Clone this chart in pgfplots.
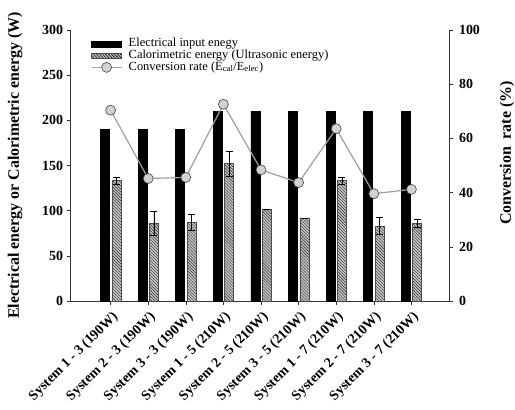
\documentclass[border=0pt]{standalone}
\usepackage{fontspec}
\setmainfont{Liberation Serif}
\usepackage{pgfplots}
\pgfplotsset{compat=1.18}
\usetikzlibrary{patterns}
\pgfplotsset{
  convleg/.style={legend image code/.code={\draw[mark repeat=2, mark phase=2, ##1] plot coordinates {(0bp,0bp) (15bp,0bp) (30bp,0bp)}; \path (33bp,0bp);}},
}

\begin{document}
\begin{tikzpicture}
\begin{axis}[
  width=379bp, height=271bp, scale only axis,
  xmin=-1.08, xmax=9,
  ymin=0, ymax=300, ytick={0,50,...,300},
  axis x line*=bottom, axis y line*=left,
  xtick={0,...,8},
  xticklabels={System 1 - 3 (190W), System 2 - 3 (190W), System 3 - 3 (190W), System 1 - 5 (210W), System 2 - 5 (210W), System 3 - 5 (210W), System 1 - 7 (210W), System 2 - 7 (210W), System 3 - 7 (210W)},
  tick align=outside, major tick length=3.5bp,
  xticklabel style={rotate=45, anchor=north east, yshift=-1bp, font=\fontsize{14}{14}\selectfont\bfseries},
  yticklabel style={font=\fontsize{14}{14}\selectfont\bfseries},
  /pgf/number format/assume math mode=true,
  ylabel={Electrical energy or Calorimetric energy (W)},
  ylabel style={font=\fontsize{16}{16}\selectfont\bfseries, at={(axis description cs:-0.145,0.5)}, anchor=center},
  axis line style={black!80, line width=0.6bp},
  tick style={black!80, line width=0.6bp},
  legend cell align=left,
  legend style={at={(axis description cs:0.047,0.978)}, anchor=north west, draw=none, fill=none,
    font=\fontsize{12.5}{12.5}\selectfont,
    nodes={inner xsep=3.5bp, inner ysep=0pt, text height=8.5bp, text depth=3.2bp}},
]
\addplot[ybar, bar width=9bp, bar shift=-5.7bp, fill=black, draw=black,
  legend image code/.code={\draw[fill=black,draw=black] (0bp,-3.3bp) rectangle (30bp,3.3bp); \path (33bp,0bp);}]
  coordinates {(0,190) (1,190) (2,190) (3,210) (4,210) (5,210) (6,210) (7,210) (8,210)};
\addlegendentry{Electrical input enegy}

\addplot[ybar, bar width=9bp, bar shift=0bp, fill=gray!45, draw=black!70, line width=0.5bp,
  postaction={pattern=north west lines, pattern color=black!85},
  legend image code/.code={\draw[fill=gray!45, draw=black!70, line width=0.5bp, postaction={pattern=north west lines, pattern color=black!85}] (0bp,-2.7bp) rectangle (30bp,2.7bp); \path (33bp,0bp);},
  error bars/.cd, y dir=both, y explicit,
  error bar style={black, line width=0.8bp},
  error mark options={rotate=90, mark size=3.5bp, line width=0.8bp, black}]
  table[x=x, y=y, y error=e] {
  x y e
  0.152 133.3 4
  1.152 86 13
  2.152 87 8.5
  3.152 152 14
  4.152 101.5 0
  5.152 91.5 0
  6.152 133.3 4
  7.152 83 9
  8.152 86.3 4.3
  };
\addlegendentry{Calorimetric energy (Ultrasonic energy)}

\addlegendimage{color=gray!75, line width=1.2bp, mark=*, mark size=5bp, mark options={fill=gray!35, draw=black!75, line width=0.6bp}, convleg}
\addlegendentry{Conversion rate (E\textsubscript{cal}/E\textsubscript{elec})}
\end{axis}

\begin{axis}[
  width=379bp, height=271bp, scale only axis,
  xmin=-1.08, xmax=9,
  ymin=0, ymax=100, ytick={0,20,...,100},
  axis y line*=right, axis x line=none, xtick=\empty,
  tick align=outside, major tick length=3.5bp,
  yticklabel style={font=\fontsize{14}{14}\selectfont\bfseries, xshift=3bp},
  /pgf/number format/assume math mode=true,
  ylabel={Conversion\ \ rate (\%)},
  ylabel style={font=\fontsize{16}{16}\selectfont\bfseries, at={(axis description cs:1.153,0.546)}, anchor=center},
  axis line style={black!80, line width=0.6bp},
  tick style={black!80, line width=0.6bp},
]
\addplot[color=gray!75, line width=1.2bp, mark=*, mark size=5bp, mark options={fill=gray!35, draw=black!75, line width=0.6bp}]
  coordinates {(0,70.4) (1,45.2) (2,45.6) (3,72.6) (4,48.4) (5,43.7) (6,63.6) (7,39.6) (8,41.2)};
\end{axis}
\pgfresetboundingbox
\path[use as bounding box] ([shift={(-70bp,-108bp)}]current axis.south west) rectangle ([shift={(66bp,30bp)}]current axis.north east);
\end{tikzpicture}
\end{document}
